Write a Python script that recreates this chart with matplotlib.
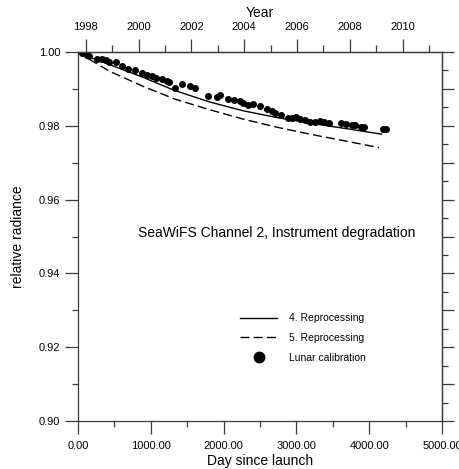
"""SeaWiFS channel 2 instrument degradation: reprocessing curves vs lunar calibration."""

import numpy as np
import matplotlib
matplotlib.use("Agg")
import matplotlib.pyplot as plt
from matplotlib.lines import Line2D
from matplotlib.ticker import FormatStrFormatter, MultipleLocator

plt.rcParams['font.family'] = ['Liberation Sans', 'DejaVu Sans']

# 4. Reprocessing (solid)
r4_day = [0, 200, 439, 897, 1327, 1812, 2269, 2727, 3184, 3641, 4168]
r4_val = [1.0, 0.9983, 0.99655, 0.99311, 0.98958, 0.98643, 0.98407, 0.98225,
          0.98073, 0.97937, 0.97774]

# 5. Reprocessing (dashed)
r5_day = [0, 200, 439, 897, 1331, 1812, 2269, 2727, 3184, 3641, 4135]
r5_val = [1.0, 0.9975, 0.99473, 0.99066, 0.98724, 0.98434, 0.98181, 0.97964,
          0.97774, 0.97600, 0.97410]

# lunar calibration points
lunar_day = [51, 128, 155, 257, 325, 384, 425, 522, 608, 690, 782, 874, 943,
             1012, 1075, 1149, 1217, 1256, 1331, 1423, 1533, 1606, 1788, 1904,
             1949, 2063, 2145, 2223, 2269, 2337, 2406, 2498, 2590, 2658, 2704,
             2790, 2886, 2937, 2992, 3054, 3120, 3184, 3260, 3321, 3374, 3452,
             3619, 3688, 3761, 3802, 3894, 3925, 4186, 4234]
lunar_val = [0.9997, 0.99927, 0.99881, 0.99810, 0.99818, 0.99791, 0.99729,
             0.99718, 0.99609, 0.99547, 0.99520, 0.99438, 0.99384, 0.99338,
             0.99302, 0.99262, 0.99221, 0.99180, 0.99031, 0.99121, 0.99066,
             0.99023, 0.98814, 0.98779, 0.98827, 0.98724, 0.98705, 0.98659,
             0.98616, 0.98569, 0.98588, 0.98542, 0.98453, 0.98388, 0.98344,
             0.98285, 0.98217, 0.98208, 0.98225, 0.98184, 0.98149, 0.98116,
             0.98116, 0.98135, 0.98100, 0.98067, 0.98073, 0.98040, 0.98027,
             0.98013, 0.97978, 0.97964, 0.97918, 0.97918]

# day since launch of 1 Jan 1998 and days per year on the top axis
YEAR0_DAY = 106
DAYS_PER_YEAR = 362.8

AXCOL = '#3a3a3a'


def day_to_year(d):
    return 1998 + (np.asarray(d) - YEAR0_DAY) / DAYS_PER_YEAR


def year_to_day(y):
    return (np.asarray(y) - 1998) * DAYS_PER_YEAR + YEAR0_DAY


fig = plt.figure(figsize=(4.59, 4.69), dpi=100)
ax = fig.add_axes([78 / 459, 48 / 469, 364 / 459, 369 / 469])

ax.plot(r4_day, r4_val, color='black', lw=1.0)
ax.plot(r5_day, r5_val, color='black', lw=1.0, dashes=(6.5, 3))
ax.plot(lunar_day, lunar_val, ls='none', marker='o', ms=4, color='black')

ax.set_xlim(0, 5000)
ax.set_ylim(0.90, 1.00)

for sp in ax.spines.values():
    sp.set_color(AXCOL)
    sp.set_linewidth(0.9)

ax.xaxis.set_major_locator(MultipleLocator(1000))
ax.xaxis.set_minor_locator(MultipleLocator(500))
ax.xaxis.set_major_formatter(FormatStrFormatter('%.2f'))
ax.yaxis.set_major_locator(MultipleLocator(0.02))
ax.yaxis.set_minor_locator(MultipleLocator(0.01))
ax.yaxis.set_major_formatter(FormatStrFormatter('%.2f'))
ax.tick_params(which='both', direction='out', color=AXCOL, width=0.9,
               labelsize=8, top=False, right=False)
ax.tick_params(which='major', length=9.2)
ax.tick_params(which='minor', length=4.3)
ax.tick_params(axis='x', pad=5)
ax.tick_params(axis='y', pad=3.5)

ax.set_xlabel('Day since launch', fontsize=10, labelpad=2.5)
ax.set_ylabel('relative radiance', fontsize=10, labelpad=10)

# right axis: ticks only
sec_y = ax.secondary_yaxis('right')
sec_y.yaxis.set_major_locator(MultipleLocator(0.01))
sec_y.yaxis.set_minor_locator(MultipleLocator(0.005))
sec_y.tick_params(which='both', direction='out', color=AXCOL, width=0.9,
                  labelright=False)
sec_y.tick_params(which='major', length=8.6)
sec_y.tick_params(which='minor', length=4.0)
sec_y.spines['right'].set_color(AXCOL)
sec_y.spines['right'].set_linewidth(0.9)

# top axis: calendar year
sec_x = ax.secondary_xaxis('top', functions=(day_to_year, year_to_day))
sec_x.set_xticks(np.arange(1998, 2011, 2))
sec_x.set_xticks(np.arange(1998, 2012, 1), minor=True)
sec_x.xaxis.set_major_formatter(FormatStrFormatter('%d'))
sec_x.tick_params(which='both', direction='out', color=AXCOL, width=0.9,
                  labelsize=8, pad=5)
sec_x.tick_params(which='major', length=9.2)
sec_x.tick_params(which='minor', length=5.3)
sec_x.spines['top'].set_color(AXCOL)
sec_x.spines['top'].set_linewidth(0.9)
sec_x.set_xlabel('Year', fontsize=10, labelpad=4)

ax.text(2730, 0.951, 'SeaWiFS Channel 2, Instrument degradation',
        fontsize=10, ha='center', va='center')

handles = [
    Line2D([], [], color='black', lw=1.0),
    Line2D([], [], color='black', lw=1.0, dashes=(6.5, 3)),
    Line2D([], [], color='black', ls='none', marker='o', ms=7.5),
]
labels = ['4. Reprocessing', '5. Reprocessing', 'Lunar calibration']
ax.legend(handles, labels, loc='upper left', bbox_to_anchor=(0.445, 0.292),
          frameon=False, fontsize=7.5, handlelength=3.6, handletextpad=1.1,
          labelspacing=0.94, borderpad=0, borderaxespad=0)

fig.savefig('out.png', dpi=100)
